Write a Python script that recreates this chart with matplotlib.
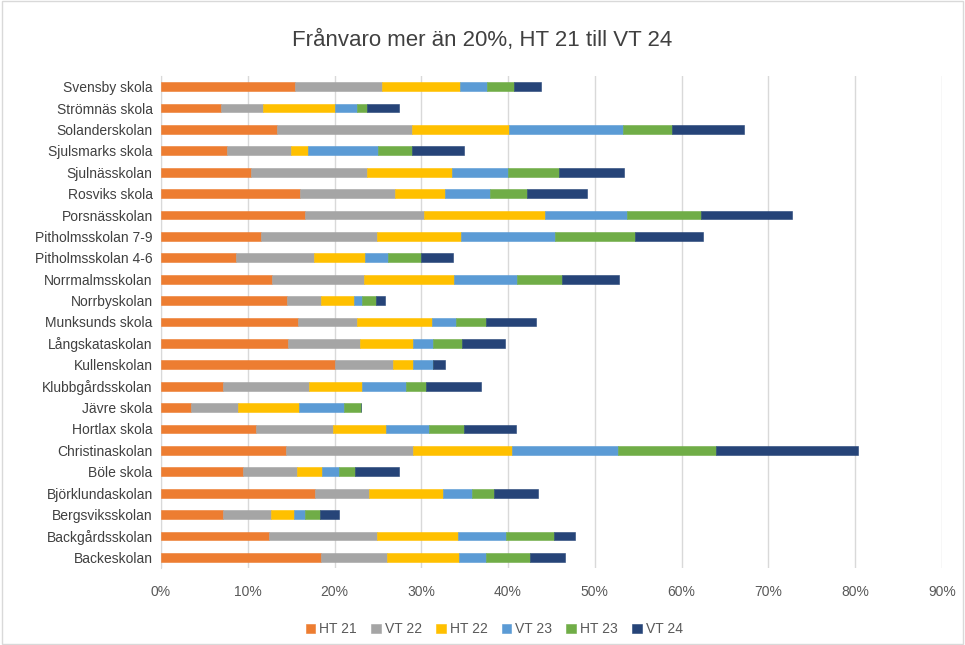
import matplotlib
matplotlib.use("Agg")
import numpy as np
import matplotlib.pyplot as plt
from matplotlib.patches import Rectangle
from matplotlib.ticker import PercentFormatter

# schools, listed bottom -> top as drawn
schools = ["Backeskolan", "Backgårdsskolan", "Bergsviksskolan", "Björklundaskolan",
           "Böle skola", "Christinaskolan", "Hortlax skola", "Jävre skola",
           "Klubbgårdsskolan", "Kullenskolan", "Långskataskolan", "Munksunds skola",
           "Norrbyskolan", "Norrmalmsskolan", "Pitholmsskolan 4-6", "Pitholmsskolan 7-9",
           "Porsnässkolan", "Rosviks skola", "Sjulnässkolan", "Sjulsmarks skola",
           "Solanderskolan", "Strömnäs skola", "Svensby skola"]

terms = ["HT 21", "VT 22", "HT 22", "VT 23", "HT 23", "VT 24"]

# share of pupils with >20% absence, per term (percent)
ht21 = [18.4, 12.5, 7.2, 17.8, 9.5, 14.4, 11.0, 3.5, 7.2, 20.0, 14.6, 15.8,
        14.5, 12.8, 8.6, 11.5, 16.6, 16.0, 10.4, 7.6, 13.4, 6.9, 15.5]
vt22 = [7.6, 12.4, 5.5, 6.2, 6.2, 14.6, 8.8, 5.4, 9.9, 6.7, 8.3, 6.8,
        3.9, 10.6, 9.0, 13.4, 13.7, 11.0, 13.3, 7.4, 15.5, 4.9, 10.0]
ht22 = [8.3, 9.3, 2.6, 8.5, 2.9, 11.5, 6.1, 7.0, 6.1, 2.3, 6.2, 8.6,
        3.8, 10.4, 5.9, 9.7, 14.0, 5.7, 9.8, 2.0, 11.2, 8.3, 9.0]
vt23 = [3.1, 5.6, 1.3, 3.3, 1.9, 12.2, 5.0, 5.2, 5.0, 2.4, 2.3, 2.8,
        1.0, 7.2, 2.7, 10.8, 9.4, 5.2, 6.5, 8.0, 13.1, 2.5, 3.1]
ht23 = [5.1, 5.5, 1.7, 2.6, 1.9, 11.3, 4.0, 1.9, 2.4, 0.0, 3.3, 3.4,
        1.6, 5.2, 3.8, 9.2, 8.5, 4.3, 5.9, 3.9, 5.7, 1.1, 3.1]
vt24 = [4.1, 2.4, 2.2, 5.0, 5.0, 16.3, 6.0, 0.0, 6.3, 1.3, 5.0, 5.8,
        1.0, 6.6, 3.7, 7.9, 10.5, 6.9, 7.5, 6.0, 8.3, 3.7, 3.1]

series = [ht21, vt22, ht22, vt23, ht23, vt24]
colors = ["#ED7D31", "#A5A5A5", "#FFC000", "#5B9BD5", "#70AD47", "#264478"]

plt.rcParams["font.family"] = ["Liberation Sans", "DejaVu Sans"]
text_col = "#595959"
dark_col = "#404040"

fig = plt.figure(figsize=(9.65, 6.45), dpi=100)
ax = fig.add_axes([0.1668, 0.1194, 0.8093, 0.7628])

y = np.arange(len(schools))
left = np.zeros(len(schools))
for name, vals, col in zip(terms, series, colors):
    vals = np.array(vals)
    ax.barh(y, vals, left=left, height=0.41, color=col, label=name,
            edgecolor=col, linewidth=0.4, zorder=3)
    left += vals

ax.set_xlim(0, 90)
ax.set_ylim(-0.5, len(schools) - 0.5)
ax.set_xticks(np.arange(0, 91, 10))
ax.xaxis.set_major_formatter(PercentFormatter(decimals=0))
ax.set_yticks(y)
ax.set_yticklabels(schools)
ax.tick_params(axis="both", length=0, colors=text_col, labelsize=10)
ax.tick_params(axis="y", labelcolor=dark_col, pad=6)
ax.tick_params(axis="x", pad=12)
ax.grid(axis="x", color="#d9d9d9", linewidth=1, zorder=0)
for s in ["top", "right", "bottom"]:
    ax.spines[s].set_visible(False)
ax.spines["left"].set_color("#d9d9d9")

fig.text(0.5, 0.937, "Frånvaro mer än 20%, HT 21 till VT 24", ha="center", va="center",
         fontsize=16, color=dark_col)

ax.legend(loc="center", bbox_to_anchor=(0.5 - 0.1668 / 2 + 0.01, -0.125), ncol=6, frameon=False,
          fontsize=10, handlelength=0.7, handleheight=0.7, handletextpad=0.3,
          columnspacing=1.0, labelcolor=text_col)

fig.patches.append(Rectangle((0.002, 0.002), 0.996, 0.996, transform=fig.transFigure,
                             fill=False, edgecolor="#d9d9d9", linewidth=1))

fig.savefig("out.png", dpi=100)
